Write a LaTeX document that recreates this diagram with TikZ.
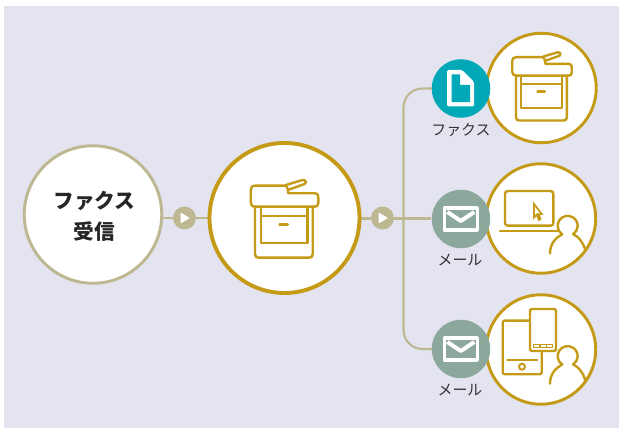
\documentclass[tikz,border=0pt]{standalone}
\usepackage{fontspec}
\setmainfont{Noto Sans CJK JP}
\usetikzlibrary{backgrounds}
\definecolor{bgc}{HTML}{E4E3F0}
\definecolor{gold}{HTML}{C49A17}
\definecolor{olive}{HTML}{BDB892}
\definecolor{tealc}{HTML}{00A8B8}
\definecolor{mailc}{HTML}{8CA79B}
\definecolor{inkc}{HTML}{333333}
\tikzset{
  x=0.75pt,y=-0.75pt,
  conn/.style={draw=olive,line width=1.6pt},
  bigcirc/.style={circle,draw=gold,fill=white,line width=2.9pt,minimum size=150*0.75pt,inner sep=0pt},
  startcirc/.style={circle,draw=olive,fill=white,line width=2.2pt,minimum size=137.5*0.75pt,inner sep=0pt},
  startlab/.style={align=center,inner sep=0pt,text=black!85,font=\fontsize{15.5pt}{23pt}\selectfont\bfseries},
  devcirc/.style={circle,draw=gold,fill=white,line width=2.2pt,minimum size=109.5*0.75pt,inner sep=0pt},
  btn/.style={circle,fill=olive,minimum size=23*0.75pt,inner sep=0pt},
  chan/.style={circle,minimum size=58.5*0.75pt,inner sep=0pt},
  lab/.style={text=inkc,font=\fontsize{11.2pt}{13pt}\selectfont,inner sep=0pt},
  ico/.style={draw=gold,line width=1.8pt,line join=round,line cap=round},
  wht/.style={draw=white,line width=2.5pt,line join=round},
}
\newcommand{\printericon}{%
  \draw[ico] (3.8,-24.7) -- (31,-24.7) .. controls (33.5,-24.7) and (33.8,-22.5) .. (33.8,-20) -- (33.8,-15) .. controls (33.8,-12) and (32,-11.3) .. (30,-11.3) -- (-29,-11.3) .. controls (-32.5,-11.3) and (-33.8,-13) .. (-33.8,-16) -- (-33.8,-28) .. controls (-33.8,-31) and (-32.5,-32.3) .. (-29,-32.3) -- (1.5,-32.3) .. controls (3,-31) and (3.8,-28) .. (3.8,-24.7);
  \draw[ico] (1.5,-33) -- (18,-38) .. controls (21,-38.5) and (22.5,-35.5) .. (20,-34) -- (4.8,-28.5);
  \draw[ico] (-29.5,-11.3) -- (-29.5,36) .. controls (-29.5,38.5) and (-28,39.7) .. (-26,39.7) -- (24.5,39.7) .. controls (27,39.7) and (28.2,38.5) .. (28.2,36) -- (28.2,-11.3);
  \draw[ico] (-23.8,-11.3) -- (-23.8,25.3) -- (22.8,25.3) -- (22.8,-11.3);
  \draw[ico] (-23.8,-2) -- (22.8,-2);
  \draw[ico] (-5,6.7) -- (3.3,6.7);
}
\newcommand{\personicon}{%
  \draw[ico] (-5.5,8.5) arc[start angle=123,end angle=417,radius=10];
  \draw[ico] (-5.5,8.5) .. controls (-12,12) and (-17.7,18) .. (-17.7,27.7);
  \draw[ico] (5.5,8.5) .. controls (11,11) and (15,16) .. (17.5,24);
}
\newcommand{\mailicon}{%
  \draw[wht] (-16.5,-11) rectangle (16.5,11);
  \draw[wht,line width=3pt] (-13.5,-7) -- (0,2) -- (13.5,-7);
}
\begin{document}
\begin{tikzpicture}
\useasboundingbox (0,0) rectangle (619,428);
% nodes
\node[startcirc] (recv) at (93,214.5) {};
\node[startlab] (recvlab) at (94.5,216.5) {ファクス\\受信};
\node[bigcirc] (mfp) at (284.5,218) {};
\node[btn] (b1) at (184.5,218) {};
\node[btn] (b2) at (382.5,218) {};
\node[devcirc] (d1) at (541.5,88) {};
\node[devcirc] (d2) at (541,218.5) {};
\node[devcirc] (d3) at (541,349.5) {};
\node[chan,fill=tealc] (c1) at (461,88.5) {};
\node[chan,fill=mailc] (c2) at (461,219) {};
\node[chan,fill=mailc] (c3) at (461,349) {};
\node[lab] (l1) at (461,130) {ファクス};
\node[lab] (l2) at (460,260) {メール};
\node[lab] (l3) at (460,390) {メール};
\coordinate (bus) at (403.5,218.5);
% background panel and connectors
\begin{pgfonlayer}{background}
\fill[bgc] (4,6) rectangle (619,428);
\draw[conn] (recv.east |- b1) -- (b1) -- (mfp.west);
\draw[conn] (mfp.east |- bus) -- (bus) -- (bus -| c2.west);
\draw[conn,rounded corners=19*0.75pt] (c1.center) -| (bus) |- (c3.center);
\end{pgfonlayer}
% play triangles
\fill[white,rounded corners=0.6pt] (180.5,212.5) -- (190,218) -- (180.5,223.5) -- cycle;
\fill[white,rounded corners=0.6pt] (378.5,212.5) -- (388,218) -- (378.5,223.5) -- cycle;
% printer main
\begin{scope}[shift={(284.5,218)}]
\printericon
\end{scope}
% printer small
\begin{scope}[shift={(542,85.6)},x=0.66pt,y=-0.66pt]
\printericon
\end{scope}
% laptop
\draw[ico] (508,191) -- (550.5,191) .. controls (552.5,191) and (553.3,192) .. (553.3,194) -- (553.3,222.7) .. controls (553.3,224.7) and (552.5,225.7) .. (550.5,225.7) -- (508,225.7) .. controls (506,225.7) and (505,224.7) .. (505,222.7) -- (505,194) .. controls (505,192) and (506,191) .. (508,191) -- cycle;
\draw[ico] (500,231) -- (558,231);
\draw[gold,line width=1.3pt,line join=miter] (534,204) -- (534,217.5) -- (536.8,214.5) -- (538.8,220) -- (540.5,219) -- (538.8,214.2) -- (541.8,214) -- cycle;
\begin{scope}[shift={(567.7,225.7)}]
\personicon
\end{scope}
% tablet and phone
\draw[ico,rounded corners=1.5pt] (502.7,320.7) rectangle (541.7,374.3);
\draw[ico] (507.3,360) -- (537.3,360);
\draw[gold,line width=1.5pt] (522,366.7) circle[radius=3];
\draw[ico,fill=white,rounded corners=1.5pt] (530,309) rectangle (556,351);
\draw[gold,line width=1pt] (533.5,344.3) rectangle (552.7,347.7);
\draw[gold,line width=1pt] (539.9,344.3) -- (539.9,347.7) (546.3,344.3) -- (546.3,347.7);
\begin{scope}[shift={(567.7,356)}]
\personicon
\end{scope}
% fax document
\fill[white,rounded corners=1pt] (447,70) -- (462,70) -- (474,82) -- (474,106.5) -- (447,106.5) -- cycle;
\fill[tealc] (451.5,74.3) -- (460,74.3) -- (460,85) -- (470,85) -- (470,102.2) -- (451.5,102.2) -- cycle;
% mail
\begin{scope}[shift={(460.8,219)}]
\mailicon
\end{scope}
\begin{scope}[shift={(460.8,349)}]
\mailicon
\end{scope}
\end{tikzpicture}
\end{document}
